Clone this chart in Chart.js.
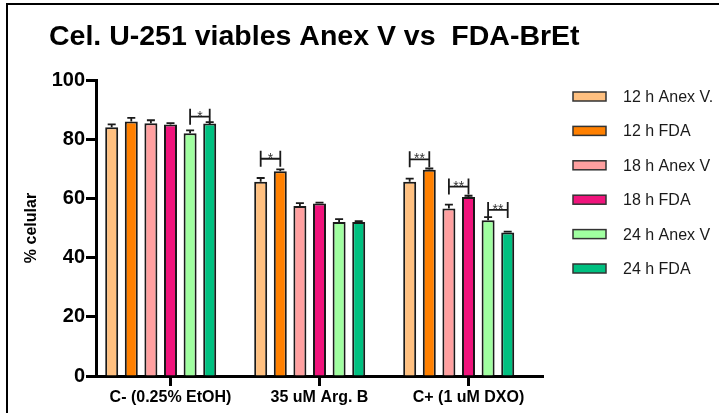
<!DOCTYPE html>
<html>
<head>
<meta charset="utf-8">
<script src="https://cdn.jsdelivr.net/npm/chart.js@4.4.1/dist/chart.umd.min.js"></script>
<style>
  html, body { margin: 0; padding: 0; background: #fff; }
  #wrap { position: relative; width: 719px; height: 413px; overflow: hidden; }
  #frame { position: absolute; left: 6px; top: 3px; width: 740px; height: 440px;
           border-top: 2px solid #000; border-left: 2px solid #000; pointer-events: none; }
  canvas { position: absolute; left: 0; top: 0; }
</style>
</head>
<body>
<div id="wrap">
  <canvas id="chart" width="719" height="413"></canvas>
  <div id="frame"></div>
</div>
<script>
// categories and series
const categories = ['C- (0.25% EtOH)', '35 uM Arg. B', 'C+ (1 uM DXO)'];
const seriesLabels = ['12 h Anex V.', '12 h FDA', '18 h Anex V', '18 h FDA', '24 h Anex V', '24 h FDA'];
const seriesColors = ['#ffc080', '#ff8000', '#ffa0a0', '#f0147c', '#a0ffa0', '#00c080'];

// mean values (% celular)
const anexV12 = [84.0, 65.6, 65.6];
const fda12   = [86.0, 69.2, 69.7];
const anexV18 = [85.4, 57.4, 56.6];
const fda18   = [85.0, 58.3, 60.5];
const anexV24 = [82.0, 52.0, 52.6];
const fda24   = [85.3, 52.0, 48.5];

// error (upper) for each series
const errAnexV12 = [1.0, 1.3, 1.1];
const errFda12   = [1.2, 0.6, 0.4];
const errAnexV18 = [1.0, 1.0, 1.3];
const errFda18   = [0.4, 0.3, 0.4];
const errAnexV24 = [1.0, 1.0, 1.1];
const errFda24   = [0.5, 0.3, 0.3];

const yTicks = [0, 20, 40, 60, 80, 100];

// significance brackets: category, first bar, second bar, height (value), label
const brackets = [
    { cat: 0, a: 4, b: 5, y: 87.6, label: '*' },
    { cat: 1, a: 0, b: 1, y: 73.4, label: '*' },
    { cat: 2, a: 0, b: 1, y: 73.2, label: '**' },
    { cat: 2, a: 2, b: 3, y: 64.0, label: '**' },
    { cat: 2, a: 4, b: 5, y: 56.1, label: '**' }
];

const allValues = [anexV12, fda12, anexV18, fda18, anexV24, fda24];
const allErrors = [errAnexV12, errFda12, errAnexV18, errFda18, errAnexV24, errFda24];

const FONT = '"Liberation Sans", Arial, sans-serif';
const INK = '#1a1a1a';

const datasets = allValues.map((vals, i) => ({
    label: seriesLabels[i],
    data: vals,
    backgroundColor: seriesColors[i],
    borderColor: INK,
    borderWidth: 2
}));
// empty 7th column (leaves a gap on the right of each group)
datasets.push({ label: '', data: [null, null, null], backgroundColor: 'rgba(0,0,0,0)', borderWidth: 0 });

const extras = {
    id: 'extras',
    afterDatasetsDraw(chart) {
        const ctx = chart.ctx;
        const y = chart.scales.y;
        ctx.save();
        ctx.strokeStyle = INK;
        ctx.lineWidth = 1.8;
        // error bars
        allErrors.forEach((errs, i) => {
            const meta = chart.getDatasetMeta(i);
            meta.data.forEach((bar, j) => {
                const top = y.getPixelForValue(allValues[i][j]);
                const hi = y.getPixelForValue(allValues[i][j] + errs[j]);
                ctx.beginPath();
                ctx.moveTo(bar.x, top);
                ctx.lineTo(bar.x, hi);
                ctx.moveTo(bar.x - 4, hi);
                ctx.lineTo(bar.x + 4, hi);
                ctx.stroke();
            });
        });
        // brackets
        ctx.fillStyle = '#333';
        ctx.font = '14px ' + FONT;
        ctx.textAlign = 'center';
        ctx.textBaseline = 'alphabetic';
        brackets.forEach(b => {
            const x1 = chart.getDatasetMeta(b.a).data[b.cat].x;
            const x2 = chart.getDatasetMeta(b.b).data[b.cat].x;
            const yy = y.getPixelForValue(b.y);
            ctx.beginPath();
            ctx.moveTo(x1, yy - 8); ctx.lineTo(x1, yy + 8);
            ctx.moveTo(x2, yy - 8); ctx.lineTo(x2, yy + 8);
            ctx.moveTo(x1, yy); ctx.lineTo(x2, yy);
            ctx.stroke();
            ctx.fillText(b.label, (x1 + x2) / 2, yy + 4);
        });
        ctx.restore();
    },
    afterDraw(chart) {
        const ctx = chart.ctx;
        ctx.save();
        // title
        ctx.fillStyle = '#000';
        ctx.font = 'bold 28.5px ' + FONT;
        ctx.textAlign = 'left';
        ctx.textBaseline = 'alphabetic';
        ctx.fillText('Cel. U-251 viables Anex V vs  FDA-BrEt', 49, 45);
        // legend
        ctx.font = '16px ' + FONT;
        ctx.textBaseline = 'middle';
        seriesLabels.forEach((lab, i) => {
            const cy = 96.5 + i * 34.4;
            ctx.fillStyle = seriesColors[i];
            ctx.fillRect(573, cy - 4.5, 33, 9);
            ctx.strokeStyle = '#333';
            ctx.lineWidth = 1.5;
            ctx.strokeRect(573, cy - 4.5, 33, 9);
            ctx.fillStyle = INK;
            ctx.fillText(lab, 623, cy + 1);
        });
        ctx.restore();
    }
};

new Chart(document.getElementById('chart'), {
    type: 'bar',
    data: { labels: categories, datasets: datasets },
    options: {
        responsive: false,
        animation: false,
        layout: { padding: { left: 0, top: 80, right: 176, bottom: 0 } },
        datasets: { bar: { categoryPercentage: 0.921, barPercentage: 0.663 } },
        plugins: {
            legend: { display: false },
            tooltip: { enabled: false }
        },
        scales: {
            x: {
                offset: true,
                afterFit: s => { s.height = 37; },
                border: { color: '#000', width: 3 },
                grid: { offset: false, drawOnChartArea: false, color: '#000', tickLength: 10, tickWidth: 3 },
                ticks: { color: '#000', padding: 2, font: { family: FONT, size: 16, weight: 'bold' } }
            },
            y: {
                min: 0, max: 100,
                afterFit: s => { s.width = 96; },
                afterBuildTicks: s => { s.ticks = yTicks.map(v => ({ value: v })); },
                border: { color: '#000', width: 3 },
                grid: { drawOnChartArea: false, color: '#000', tickLength: 10, tickWidth: 3 },
                ticks: { color: '#000', padding: 1, font: { family: FONT, size: 20, weight: 'bold' } },
                title: {
                    display: true, text: '% celular', color: '#000',
                    padding: { top: 22, bottom: 0 },
                    font: { family: FONT, size: 16, weight: 'bold' }
                }
            }
        }
    },
    plugins: [extras]
});
</script>
</body>
</html>
